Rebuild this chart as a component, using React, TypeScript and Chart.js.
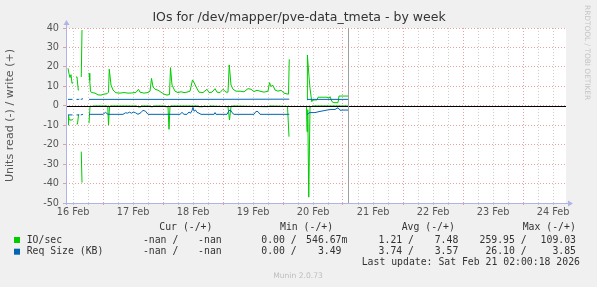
import React, { useEffect, useRef } from 'react';
import { Chart, registerables } from 'chart.js';

Chart.register(...registerables);

// ---------------- data (x = hours since 16 Feb 00:00) ----------------
const chartTitle = 'IOs for /dev/mapper/pve-data_tmeta - by week';
const yAxisTitle = 'Units read (-) / write (+)';
const dayLabels = ['16 Feb', '17 Feb', '18 Feb', '19 Feb', '20 Feb', '21 Feb', '22 Feb', '23 Feb', '24 Feb'];
const xMinHour = 9.2;
const xMaxHour = 209.2;
const yMin = -50;
const yMax = 40;
const lastUpdateHour = 122;

// IO/sec write (+)
const writeIoT = [10.0, 10.4, 10.8, 11.2, 11.6, 12.0, 12.5, 13.2, 13.6, 14.1, 14.4, 14.8, 15.3, 15.6, 16.0,
  18.4, 18.7, 19.0, 19.6, 20.8, 22.0, 23.2, 24.4, 25.6, 26.2, 26.5, 27.2, 28.0, 29.2, 30.8, 32.4, 34.0, 35.6,
  37.2, 38.2, 38.8, 40.4, 42.0, 42.8, 43.4, 44.0, 44.8, 46.0, 47.2, 48.4, 49.6, 50.6, 51.0, 51.6, 52.8, 54.0,
  55.2, 56.4, 57.6, 58.8, 59.8, 60.4, 61.2, 62.4, 64.0, 65.6, 66.4, 67.6, 68.8, 69.6, 70.8, 72.0, 73.2, 74.0,
  74.5, 75.2, 76.0, 77.2, 78.8, 80.4, 82.0, 83.2, 84.4, 85.6, 86.8, 88.4, 90.0, 90.6, 91.2, 92.0, 92.8, 94.0,
  95.2, 96.4, 97.6, 98.2, 98.5, 99.0,
  105.6, 105.75, 106.4, 106.8, 107.5, 108.0, 109.6, 110.0, 113.6, 114.4, 114.8, 115.6, 116.4, 118.0, 118.4, 122.0];
const writeIoV = [19.3, 16.5, 14.5, 16, 11.5, 12, null, 14.8, 14.8, 8.1, 8, null, 14.8, 39, null,
  16.7, 13, 7.3, 6.8, 6.5, 5.6, 5.5, 6.0, 6.2, 7, 18.8, 10.7, 8.1, 6.7, 6.5, 6.8, 6.5, 6.6,
  6.9, 8.5, 7, 6.5, 6.8, 7.5, 14.1, 9.8, 8.5, 8, 7, 6, 5.5, 5.8, 19.6, 10.7, 7.5, 6.8,
  7.2, 6.8, 7, 7.5, 13.3, 12, 9.8, 7, 6.8, 8.5, 6.8, 7, 8.8, 7, 6.8, 8.5, 7, 7,
  21, 10.7, 8.5, 7.5, 7.5, 7.2, 8.8, 8.5, 7.3, 8, 7.5, 7, 7.5, 11.9, 10, 10.5, 8.1, 7.5,
  8, 6.5, 6.1, 6, 23.9, null,
  3, 26.1, 15, 9, 2.1, 3, 3, 4.4, 4.4, 3.9, 4.7, 2.1, 1.6, 1.6, 5, 5];

// IO/sec read (-)
const readIoT = [10.0, 10.2, 10.5, 11.6, 12.0, 12.5, 13.4, 13.8, 14.2, 14.4, 14.8, 15.3, 15.6, 16.0,
  18.4, 18.8, 20.8, 25.6, 25.9, 26.2, 26.6, 27.0, 37.6, 38.0, 39.0, 39.4, 42.8, 43.0, 44.0, 44.4,
  48.8, 49.0, 50.0, 50.4, 50.8, 51.2, 62.0, 62.2, 64.0, 64.4, 66.0, 66.8, 74.0, 74.6, 75.2, 76.0,
  90.0, 90.4, 97.8, 98.4, 99.0,
  105.4, 105.6, 105.9, 106.3, 106.8, 108.0, 122.0];
const readIoV = [-9.9, -4.7, -7.3, -7.3, -7, null, -9.4, -9.4, -4.7, -4.7, null, -23.6, -39.5, null,
  -9, -0.4, -0.1, -0.1, -0.3, -9.9, -0.3, -0.1, -0.1, -0.6, -0.6, -0.1, -0.1, -0.5, -0.5, -0.1,
  -0.1, -0.5, -0.5, -12.1, -0.3, -0.1, -0.1, -0.5, -0.5, -0.1, -0.5, -0.1, -0.5, -7.3, -0.5, -0.1,
  -0.5, -0.1, -0.3, -15.9, null,
  -0.5, -13.3, -2, -47, -0.6, -0.1, -0.1];

// Req Size (KB) write (+)
const writeSizeT = [10.0, 11.8, 12.3, 13.4, 14.5, 14.8, 15.1, 16.0, 16.3, 18.4, 60.0, 98.5, 99.0, 105.6, 122.0];
const writeSizeV = [3.3, 3.3, null, 3.3, 3.3, null, 3.3, 3.6, null, 3.3, 3.3, 3.4, null, 3.3, 3.3];

// Req Size (KB) read (-)
const readSizeT = [10.0, 11.8, 12.3, 13.4, 14.5, 14.8, 15.1, 16.0, 16.3,
  18.4, 24.0, 25.0, 26.0, 32.0, 33.0, 33.8, 34.6, 35.4, 36.2, 37.0, 38.0, 39.2, 40.0, 41.0, 42.0,
  54.8, 55.6, 56.4, 57.6, 58.4, 59.0, 59.6, 60.0, 60.4, 61.0, 61.6, 62.4, 63.2, 68.4, 68.8, 69.2,
  73.6, 74.4, 75.0, 75.6, 76.4, 84.4, 85.2, 86.0, 86.8, 98.5, 99.0,
  105.6, 106.4, 107.2, 108.8, 110.4, 112.0, 113.6, 115.2, 116.8, 118.0, 118.8, 120.0, 122.0];
const readSizeV = [-4.7, -4.7, null, -4.7, -4.7, null, -4.7, -4.4, null,
  -4.4, -4.4, -3.4, -4.4, -4.4, -3.6, -3.8, -3.3, -3.8, -3.2, -3.6, -4.4, -3.5, -2.3, -2.8, -4.4,
  -4.4, -3.4, -4.4, -4.4, -3.2, -3.8, -2.5, -0.8, -2.8, -2.2, -3.4, -3.8, -4.4, -4.4, -3.5, -4.4,
  -4.4, -2.5, -2.2, -3.5, -4.4, -4.4, -2.9, -3.0, -4.4, -4.4, null,
  -4.7, -3.6, -3.5, -3.5, -3.0, -2.6, -2.2, -1.9, -1.9, -1.0, -2.3, -2.2, -2.2];

// legend
const legendNames = ['IO/sec', 'Req Size (KB)'];
const legendColors = ['#00cc00', '#0066b3'];
const legendHeaders = ['Cur (-/+)', 'Min (-/+)', 'Avg (-/+)', 'Max (-/+)'];
const legendCur = [['-nan', '-nan'], ['-nan', '-nan']];
const legendMin = [['0.00', '546.67m'], ['0.00', '3.49']];
const legendAvg = [['1.21', '7.48'], ['3.74', '3.57']];
const legendMax = [['259.95', '109.03'], ['26.10', '3.85']];
const lastUpdateText = 'Last update: Sat Feb 21 02:00:18 2026';
const muninVersion = 'Munin 2.0.73';
const rrdText = 'RRDTOOL / TOBI OETIKER';

const GREEN = '#00cc00';
const BLUE = '#0066b3';
const RED_GRID = 'rgba(222,130,130,0.75)';
const GRAY_GRID = 'rgba(170,170,170,0.6)';

const toPts = (t: number[], v: (number | null)[]) => t.map((x, i) => ({ x, y: v[i] }));

const muninPlugin = {
  id: 'muninDecor',
  beforeDraw(chart: any) {
    const { ctx, chartArea: a } = chart;
    ctx.save();
    ctx.fillStyle = '#f0f0f0';
    ctx.fillRect(0, 0, chart.width, chart.height);
    ctx.fillStyle = '#ffffff';
    ctx.fillRect(a.left, a.top, a.right - a.left, a.bottom - a.top);
    ctx.restore();
  },
  afterDatasetsDraw(chart: any) {
    const { ctx, chartArea: a, scales } = chart;
    ctx.save();
    const y0 = Math.round(scales.y.getPixelForValue(0)) + 0.5;
    ctx.strokeStyle = '#000000';
    ctx.lineWidth = 1;
    ctx.beginPath();
    ctx.moveTo(a.left, y0);
    ctx.lineTo(a.right, y0);
    ctx.stroke();
    const xu = Math.round(scales.x.getPixelForValue(lastUpdateHour)) + 0.5;
    ctx.strokeStyle = '#a0a0a0';
    ctx.beginPath();
    ctx.moveTo(xu, a.top);
    ctx.lineTo(xu, a.bottom);
    ctx.stroke();
    ctx.restore();
  },
  afterDraw(chart: any) {
    const { ctx, chartArea: a } = chart;
    ctx.save();
    // axes with arrows
    ctx.strokeStyle = '#b0b4e4';
    ctx.fillStyle = '#b0b4e4';
    ctx.lineWidth = 1;
    const ax = a.left + 0.5;
    const ay = a.bottom + 0.5;
    ctx.beginPath();
    ctx.moveTo(ax, a.bottom + 2);
    ctx.lineTo(ax, a.top - 3);
    ctx.moveTo(a.left - 2, ay);
    ctx.lineTo(a.right + 2, ay);
    ctx.stroke();
    ctx.beginPath();
    ctx.moveTo(ax - 3, a.top - 3);
    ctx.lineTo(ax + 3, a.top - 3);
    ctx.lineTo(ax, a.top - 8);
    ctx.closePath();
    ctx.fill();
    ctx.beginPath();
    ctx.moveTo(a.right + 2, ay - 3);
    ctx.lineTo(a.right + 2, ay + 3);
    ctx.lineTo(a.right + 7, ay);
    ctx.closePath();
    ctx.fill();

    // title
    ctx.fillStyle = '#333333';
    ctx.font = '12.5px "DejaVu Sans"';
    ctx.textAlign = 'center';
    ctx.textBaseline = 'middle';
    ctx.fillText(chartTitle, 299, 17.5);

    // rrdtool watermark
    ctx.save();
    ctx.translate(587, 5);
    ctx.rotate(Math.PI / 2);
    ctx.font = '7.4px "DejaVu Sans"';
    ctx.fillStyle = '#c4c4c4';
    ctx.textAlign = 'left';
    ctx.textBaseline = 'middle';
    ctx.fillText(rrdText, 0, 0);
    ctx.restore();

    // legend
    ctx.font = '9.8px "DejaVu Sans Mono"';
    ctx.fillStyle = '#333333';
    ctx.textBaseline = 'middle';
    ctx.textAlign = 'left';
    const headerX = [159.3, 280, 401.7, 522.7];
    legendHeaders.forEach((h, i) => ctx.fillText(h, headerX[i], 227));
    const rowY = [240, 251.7];
    const slashRight = [178.3, 296.7, 414, 526.7];
    const valRight = [221.7, 341.5, 458.3, 576];
    const cols = [legendCur, legendMin, legendAvg, legendMax];
    const cw = ctx.measureText('0').width;
    legendNames.forEach((name, r) => {
      const y = rowY[r];
      ctx.fillStyle = legendColors[r];
      ctx.fillRect(14, y - 3, 6, 6);
      ctx.fillStyle = '#333333';
      ctx.textAlign = 'left';
      ctx.fillText(name, 26.7, y);
      cols.forEach((col, c) => {
        const [rv, wv] = col[r];
        ctx.textAlign = 'right';
        ctx.fillText(rv + ' /', slashRight[c], y);
        if (wv.endsWith('m')) {
          ctx.fillText(wv.slice(0, -1), valRight[c], y);
          ctx.textAlign = 'left';
          ctx.fillText('m', valRight[c], y);
        } else {
          ctx.fillText(wv, valRight[c], y);
        }
      });
    });
    void cw;
    ctx.textAlign = 'left';
    ctx.fillText(lastUpdateText, 361.7, 262.7);

    ctx.font = '7.6px "DejaVu Sans"';
    ctx.fillStyle = '#bdbdbd';
    ctx.textAlign = 'center';
    ctx.fillText(muninVersion, 298, 276);
    ctx.restore();
  },
};

export default function App() {
  const ref = useRef<HTMLCanvasElement | null>(null);
  useEffect(() => {
    if (!ref.current) return;
    const chart = new Chart(ref.current, {
      type: 'line',
      data: {
        datasets: [
          { data: toPts(writeSizeT, writeSizeV), borderColor: BLUE },
          { data: toPts(readSizeT, readSizeV), borderColor: BLUE },
          { data: toPts(writeIoT, writeIoV), borderColor: GREEN },
          { data: toPts(readIoT, readIoV), borderColor: GREEN },
        ].map((d) => ({ ...d, borderWidth: 1, pointRadius: 0, tension: 0, spanGaps: false, fill: false })),
      },
      options: {
        responsive: false,
        animation: false,
        devicePixelRatio: 1,
        layout: { padding: { left: 0, top: 28, right: 31, bottom: 64 } },
        plugins: { legend: { display: false }, tooltip: { enabled: false }, title: { display: false } },
        scales: {
          x: {
            type: 'linear',
            min: xMinHour,
            max: xMaxHour,
            afterFit: (s: any) => { s.height = 20; },
            afterBuildTicks: (s: any) => {
              const t = [];
              for (let h = 12; h <= xMaxHour; h += 6) t.push({ value: h });
              s.ticks = t;
            },
            grid: {
              color: (c: any) => (c.tick && c.tick.value % 24 === 0 ? RED_GRID : GRAY_GRID),
              tickColor: (c: any) => (c.tick && c.tick.value % 24 === 0 ? RED_GRID : GRAY_GRID),
              lineWidth: 1,
              drawTicks: true,
              tickLength: 2,
            },
            border: { display: false, dash: [1, 2] },
            ticks: {
              autoSkip: false,
              maxRotation: 0,
              padding: 1.5,
              color: '#555555',
              font: { family: 'DejaVu Sans', size: 9.7 },
              callback: (v: any) => {
                const n = Number(v);
                return (n - 12) % 24 === 0 ? dayLabels[(n - 12) / 24] : '';
              },
            },
          },
          y: {
            type: 'linear',
            min: yMin,
            max: yMax,
            afterFit: (s: any) => { s.width = 66; },
            grid: {
              color: (c: any) => (c.tick && c.tick.value % 10 === 0 ? RED_GRID : GRAY_GRID),
              tickColor: (c: any) => (c.tick && c.tick.value % 10 === 0 ? RED_GRID : GRAY_GRID),
              lineWidth: 1,
              drawTicks: true,
              tickLength: 3,
            },
            border: { display: false, dash: [1, 2] },
            ticks: {
              stepSize: 5,
              padding: 4,
              color: '#555555',
              font: { family: 'DejaVu Sans', size: 9.7 },
              callback: (v: any) => (Number(v) % 10 === 0 ? String(v) : ''),
            },
            title: {
              display: true,
              text: yAxisTitle,
              color: '#555555',
              font: { family: 'DejaVu Sans', size: 11.1 },
              padding: { top: 3, bottom: 0 },
            },
          },
        },
      },
      plugins: [muninPlugin],
    } as any);
    return () => chart.destroy();
  }, []);
  return (
    <div style={{ position: 'absolute', left: 0, top: 0, width: 597, height: 287 }}>
      <canvas ref={ref} width={597} height={287} style={{ display: 'block' }} />
    </div>
  );
}
